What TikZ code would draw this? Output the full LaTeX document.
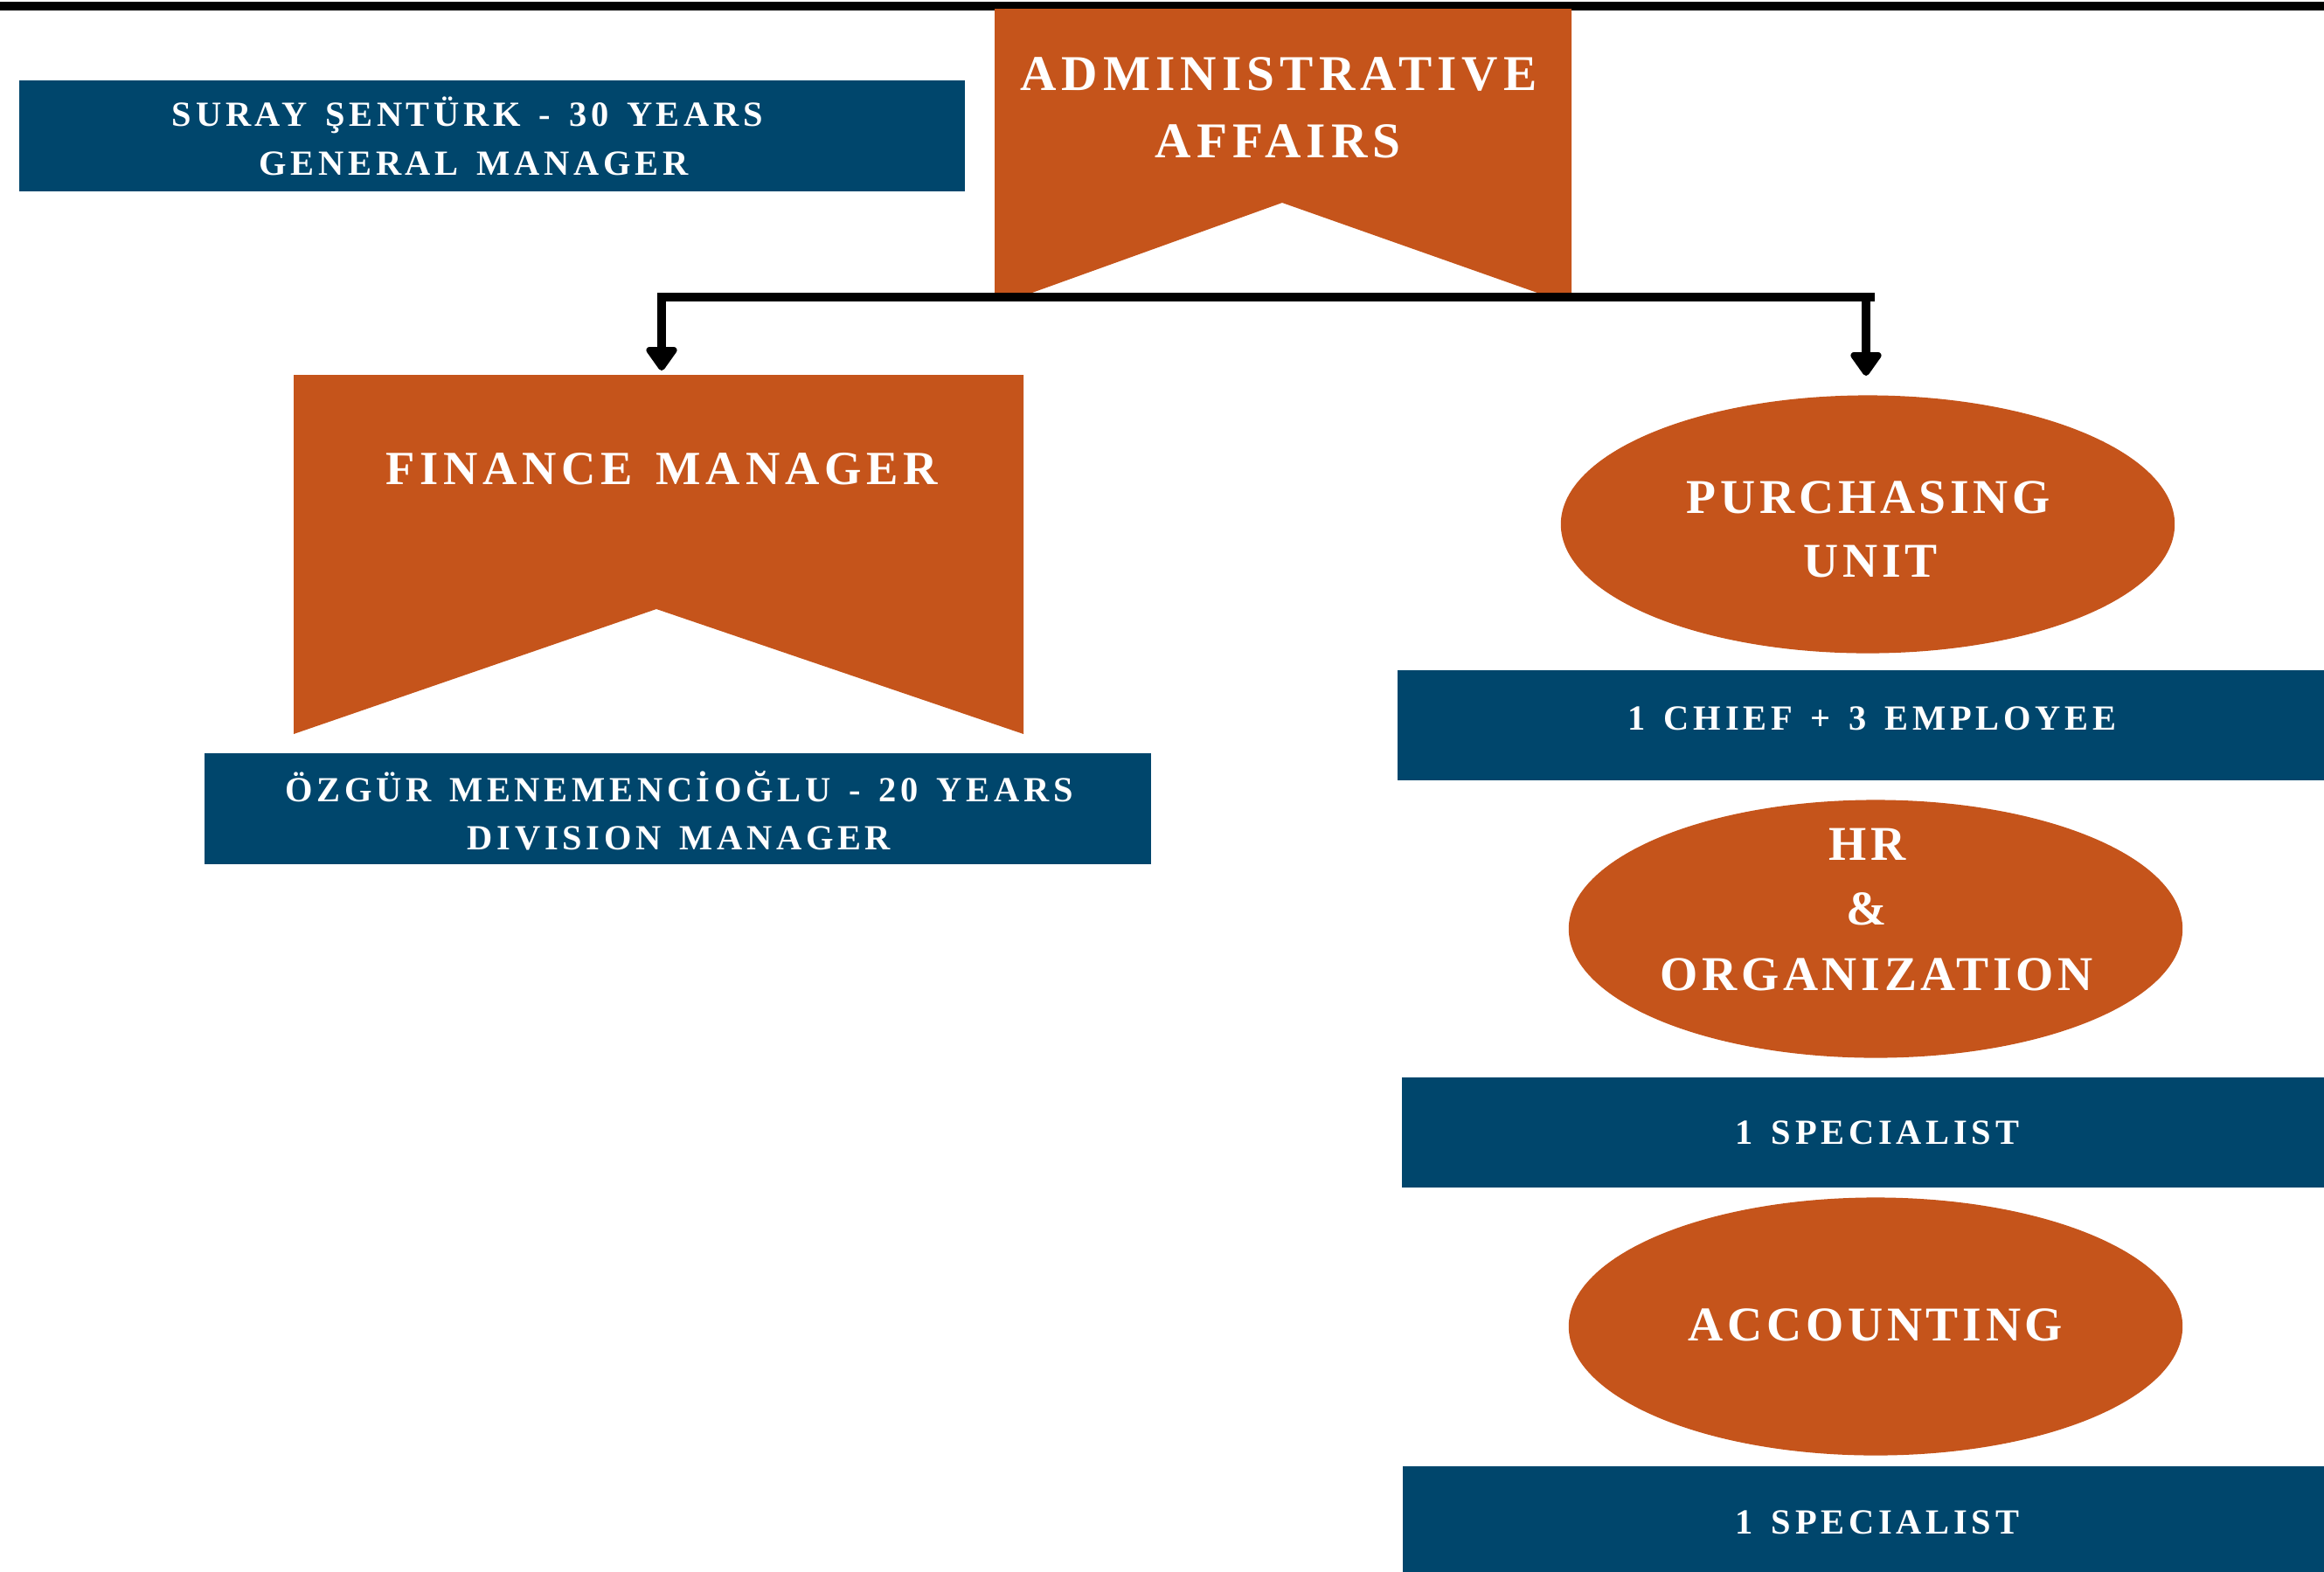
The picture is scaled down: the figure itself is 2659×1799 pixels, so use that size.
\documentclass[tikz,border=0pt]{standalone}
\usepackage{fontspec}
\setmainfont{Liberation Serif}
\newfontfamily\fsmall[LetterSpace=11.7,WordSpace=1.4]{Liberation Serif}
\newfontfamily\fadmin[LetterSpace=10.7]{Liberation Serif}
\newfontfamily\ffin[LetterSpace=10.5,WordSpace=1.4]{Liberation Serif}
\newfontfamily\fell[LetterSpace=8.5]{Liberation Serif}
\usetikzlibrary{arrows.meta,shapes.geometric}
\definecolor{orng}{RGB}{197,84,27}
\definecolor{navy}{RGB}{0,70,108}
\begin{document}
\begin{tikzpicture}[x=0.01cm,y=-0.01cm,
  bluebox/.style={fill=navy,draw=none,rectangle,inner sep=0},
  oval/.style={ellipse,fill=orng,draw=none,minimum width=7.02cm,minimum height=2.95cm,inner sep=0},
  wt/.style={text=white,inner sep=0,anchor=base},
  smallt/.style={wt,font=\fontsize{11.5}{14}\fsmall\bfseries},
  admint/.style={wt,font=\fontsize{16.3}{19}\fadmin\bfseries},
  fint/.style={wt,font=\fontsize{15.5}{18}\ffin\bfseries},
  ellt/.style={wt,font=\fontsize{15.8}{18}\fell\bfseries},
  bar/.style={line width=0.1cm},
  arr/.style={line width=0.1cm,-{Triangle[length=0.30cm,width=0.40cm,round]}}
]
\useasboundingbox (0,0) rectangle (2659,1799);
% top rule
\draw[line width=0.1cm] (0,7) -- (2659,7);

% general manager box
\node[bluebox,minimum width=10.82cm,minimum height=1.27cm] (gm) at (563,155.5) {};
\node[smallt] (gm1) at (535,144) {SURAY ŞENTÜRK - 30 YEARS};
\node[smallt] (gm2) at (542,200) {GENERAL MANAGER};

% administrative affairs banner
\fill[orng] (1138,10) -- (1798,10) -- (1798,340) -- (1773,340) -- (1467,232) -- (1167,340) -- (1138,340) -- cycle;
\node[admint] (adm1) at (1463,103) {ADMINISTRATIVE};
\node[admint] (adm2) at (1462,180) {AFFAIRS};

% finance manager banner
\fill[orng] (336,429) -- (1171,429) -- (1171,840) -- (751,697) -- (336,840) -- cycle;
\node[fint] (fin) at (757,554) {FINANCE MANAGER};

% division manager box
\node[bluebox,minimum width=10.83cm,minimum height=1.27cm] (dm) at (775.5,925.5) {};
\node[smallt] (dm1) at (777,917) {ÖZGÜR MENEMENCİOĞLU - 20 YEARS};
\node[smallt] (dm2) at (777,972) {DIVISION MANAGER};

% purchasing
\node[oval] (pur) at (2137,600) {};
\node[ellt] (pur1) at (2138,587) {PURCHASING};
\node[ellt] (pur2) at (2140,660) {UNIT};
\node[bluebox,minimum width=10.6cm,minimum height=1.26cm] (chief) at (2129,830) {};
\node[smallt] (chiefT) at (2142,835) {1 CHIEF + 3 EMPLOYEE};

% HR
\node[oval] (hr) at (2146,1063) {};
\node[ellt] (hr1) at (2137,984) {HR};
\node[ellt] (hr2) at (2136,1058) {\&};
\node[ellt] (hr3) at (2147,1133) {ORGANIZATION};
\node[bluebox,minimum width=10.55cm,minimum height=1.26cm] (sp1) at (2131.5,1296) {};
\node[smallt] (sp1T) at (2148,1309) {1 SPECIALIST};

% accounting
\node[oval] (acc) at (2146,1518) {};
\node[ellt] (accT) at (2146,1534) {ACCOUNTING};
\node[bluebox,minimum width=10.54cm,minimum height=1.21cm] (sp2) at (2132,1738.5) {};
\node[smallt] (sp2T) at (2148,1755) {1 SPECIALIST};

% connectors
\coordinate (barL) at (752,340);
\coordinate (barR) at (2145,340);
\coordinate (finIn) at (757,336);
\coordinate (finTip) at (757,424);
\coordinate (purIn) at (2135,345);
\coordinate (purTip) at (2135,430);
\draw[bar] (barL) -- (barR);
\draw[arr] (finIn) -- (finTip);
\draw[arr] (purIn) -- (purTip);
\end{tikzpicture}
\end{document}
